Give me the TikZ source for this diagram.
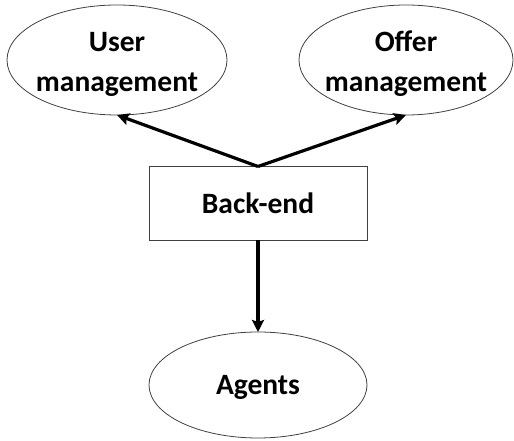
\documentclass[tikz,border=0pt]{standalone}
\usepackage{fontspec}
\setmainfont{Carlito}
\usetikzlibrary{shapes.geometric,arrows.meta}
\begin{document}
\begin{tikzpicture}[x=1pt,y=1pt,
  lbl/.style={font=\bfseries\fontsize{29.5}{40}\selectfont, align=center, inner sep=0pt, outer sep=0pt},
  oval/.style={lbl, ellipse, draw=black!75, line width=0.8pt},
  boxnode/.style={lbl, rectangle, draw=black!75, line width=1pt, minimum width=218pt, minimum height=74pt},
  conn/.style={line width=3.2pt, -{Stealth[length=12pt,width=12pt,inset=2pt]}}]
\useasboundingbox (0,0) rectangle (514,441);
\node[oval, minimum width=220pt, minimum height=110pt] (user) at (117,381) {};
\node[lbl] at (117,377) {User\\management};
\node[oval, minimum width=214pt, minimum height=110pt] (offer) at (406,381) {};
\node[lbl] at (406,377) {Offer\\management};
\node[boxnode] (back) at (258,237.5) {Back-end};
\node[oval, minimum width=218pt, minimum height=106pt] (agents) at (258,56) {};
\node[lbl] at (258,54) {Agents};
\draw[conn] (back.north) -- (user.south);
\draw[conn] (back.north) -- (offer.south);
\draw[conn] (back.south) -- (agents.north);
\end{tikzpicture}
\end{document}
